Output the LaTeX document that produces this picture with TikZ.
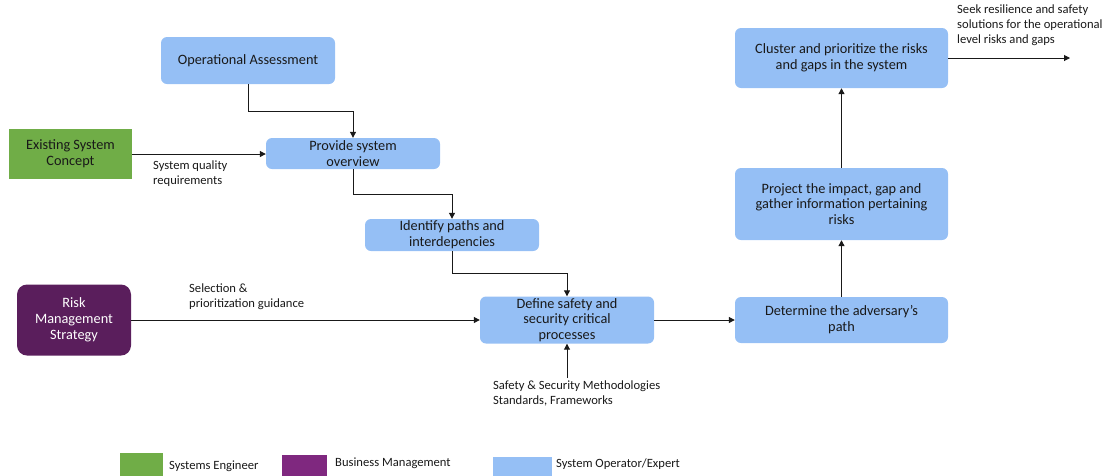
\documentclass[tikz,border=0pt]{standalone}
\usepackage{fontspec}
\setmainfont{Carlito}
\usetikzlibrary{arrows.meta}
\definecolor{opblue}{RGB}{149,191,245}
\definecolor{segreen}{RGB}{112,173,71}
\definecolor{bmdark}{RGB}{90,30,92}
\definecolor{bmpurple}{RGB}{127,40,127}
\definecolor{ink}{RGB}{25,25,25}
\begin{document}
\begin{tikzpicture}[x=1pt,y=-1pt,
  task/.style={rounded corners=6pt, fill=opblue, align=center, text=ink,
    font=\fontsize{14.3}{15.8}\selectfont, inner sep=1pt},
  actor/.style={align=center, font=\fontsize{14.3}{15.8}\selectfont, inner sep=1pt},
  note/.style={align=left, text=ink, anchor=north west, inner sep=0pt,
    font=\fontsize{12.6}{15}\selectfont},
  conn/.style={draw=ink, line width=1pt, -{Triangle[length=6pt,width=6pt]}},
  legbox/.style={anchor=north west, inner sep=0pt}]
\useasboundingbox (0,0) rectangle (1110,475);

% process steps
\node[task, minimum width=174, minimum height=47] (oa) at (248,60.5) {Operational Assessment};
\node[actor, fill=segreen, text=ink, minimum width=123, minimum height=50] (esc) at (70.5,154) {Existing System\\Concept};
\node[task, minimum width=174, minimum height=31] (pso) at (353,153.5) {Provide system\\overview};
\node[task, minimum width=174, minimum height=32] (idp) at (452,235) {Identify paths and\\interdepencies};
\node[actor, fill=bmdark, text=white, rounded corners=10pt, minimum width=114, minimum height=71] (rms) at (74,320) {Risk\\Management\\Strategy};
\node[task, minimum width=174, minimum height=47] (dsc) at (567,320) {Define safety and\\security critical\\processes};
\node[task, minimum width=213, minimum height=46] (dap) at (841.5,320) {Determine the adversary’s\\path};
\node[task, minimum width=213, minimum height=72] (pig) at (841.5,204) {Project the impact, gap and\\gather information pertaining\\risks};
\node[task, minimum width=213, minimum height=60] (cpr) at (841.5,58) {Cluster and prioritize the risks\\and gaps in the system};

% free ends of the input and output arrows
\coordinate (stdin) at (567,378);
\coordinate (out) at (1070,58);

% connectors
\draw[conn] (oa.south) -- ++(0,27) -| (pso.north);
\draw[conn] (esc.east) -- (esc.east -| pso.west);
\draw[conn] (pso.south) -- ++(0,25) -| (idp.north);
\draw[conn] (idp.south) -- ++(0,22) -| (dsc.north);
\draw[conn] (rms.east) -- (dsc.west);
\draw[conn] (stdin) -- (dsc.south);
\draw[conn] (dsc.east) -- (dap.west);
\draw[conn] (dap.north) -- (pig.south);
\draw[conn] (pig.north) -- (cpr.south);
\draw[conn] (cpr.east) -- (out);

% connector labels
\node[note] (lq) at (153,161) {System quality\\requirements};
\node[note] (lsel) at (189,284) {Selection \&\\prioritization guidance};
\node[note] (lstd) at (493,381) {Safety \& Security Methodologies\\Standards, Frameworks};
\node[note] (lout) at (957,5) {Seek resilience and safety\\solutions for the operational\\level risks and gaps};

% legend
\fill[segreen] (120,453) rectangle (163,476);
\node[note, anchor=west] (lg1) at (169,466) {Systems Engineer};
\fill[bmpurple] (282,455) rectangle (327,476);
\node[note, anchor=west] (lg2) at (335,463) {Business Management};
\fill[opblue] (493,457) rectangle (552,476);
\node[note, anchor=west] (lg3) at (556,464) {System Operator/Expert};
\end{tikzpicture}
\end{document}
